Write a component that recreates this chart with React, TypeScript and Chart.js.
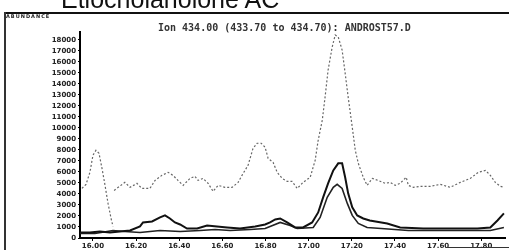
import React, { useEffect, useRef } from "react";
import { Chart, registerables } from "chart.js";

Chart.register(...registerables);

const chartTitle = "Etiocholanolone AC";
const ionLabel = "Ion 434.00 (433.70 to 434.70): ANDROST57.D";
const abundanceLabel = "Abundance";

const xTickValues = [16.0, 16.2, 16.4, 16.6, 16.8, 17.0, 17.2, 17.4, 17.6, 17.8];
const xTickLabels = ["16.00", "16.20", "16.40", "16.60", "16.80", "17.00", "17.20", "17.40", "17.60", "17.80"];
const yTickValues = [0, 1000, 2000, 3000, 4000, 5000, 6000, 7000, 8000, 9000, 10000, 11000, 12000, 13000, 14000, 15000, 16000, 17000, 18000];

// dotted trace
const dotTimes = [
  15.949, 15.968, 15.986, 16.0, 16.014, 16.028, 16.042, 16.056, 16.07, 16.084, 16.093, 16.095,
  16.098, 16.148, 16.172, 16.204, 16.227, 16.264, 16.288, 16.32, 16.348, 16.371, 16.394, 16.418,
  16.45, 16.473, 16.487, 16.51, 16.534, 16.557, 16.58, 16.612, 16.645, 16.673, 16.691, 16.719,
  16.742, 16.761, 16.78, 16.798, 16.812, 16.835, 16.854, 16.877, 16.9, 16.923, 16.947, 16.974,
  17.007, 17.03, 17.044, 17.063, 17.076, 17.09, 17.109, 17.123, 17.137, 17.155, 17.169, 17.183,
  17.202, 17.216, 17.23, 17.253, 17.271, 17.295, 17.322, 17.355, 17.378, 17.401, 17.424, 17.452,
  17.462, 17.485, 17.517, 17.564, 17.61, 17.656, 17.703, 17.749, 17.786, 17.819, 17.842, 17.865,
  17.888, 17.905,
];
const dotValues = [
  4500, 4870, 5960, 7510, 7960, 7690, 6320, 4780, 3140, 1770, 1050, null,
  4320, 5050, 4600, 4960, 4500, 4500, 5230, 5690, 5960, 5690, 5230, 4780,
  5410, 5600, 5230, 5410, 4960, 4230, 4780, 4600, 4600, 5050, 5690, 6600,
  8140, 8600, 8600, 8240, 7230, 6870, 5960, 5410, 5140, 5140, 4500, 5050,
  5510, 7050, 8870, 10690, 12790, 15240, 17340, 18430, 18250, 17060, 14970, 12790,
  10060, 7960, 6780, 5510, 4780, 5410, 5230, 4960, 5050, 4780, 4960, 5510,
  4780, 4600, 4690, 4690, 4870, 4600, 5050, 5410, 5960, 6140, 5690, 5050,
  4690, 4600,
];

// taller solid trace
const solidATimes = [
  15.94, 15.986, 16.032, 16.079, 16.125, 16.172, 16.218, 16.232, 16.274, 16.311, 16.334, 16.357,
  16.38, 16.404, 16.436, 16.483, 16.529, 16.575, 16.622, 16.682, 16.752, 16.798, 16.821, 16.845,
  16.868, 16.9, 16.937, 16.974, 17.016, 17.044, 17.067, 17.09, 17.114, 17.137, 17.155, 17.169,
  17.183, 17.202, 17.225, 17.253, 17.283, 17.364, 17.424, 17.531, 17.656, 17.782, 17.842, 17.875,
  17.905,
];
const solidAValues = [
  500, 500, 590, 500, 590, 680, 1050, 1410, 1500, 1870, 2050, 1770,
  1410, 1230, 860, 860, 1140, 1050, 960, 860, 1050, 1230, 1410, 1680,
  1770, 1410, 960, 960, 1410, 2320, 3690, 4960, 6140, 6780, 6780, 5510,
  4050, 2780, 2050, 1770, 1590, 1320, 960, 860, 860, 860, 960, 1590,
  2230,
];

// lower solid trace
const solidBTimes = [
  15.94, 16.009, 16.093, 16.148, 16.218, 16.311, 16.404, 16.497, 16.566, 16.636, 16.729, 16.798,
  16.868, 16.914, 16.947, 17.021, 17.053, 17.086, 17.114, 17.132, 17.155, 17.179, 17.202, 17.23,
  17.271, 17.336, 17.462, 17.656, 17.842, 17.905,
];
const solidBValues = [
  410, 410, 680, 590, 500, 680, 590, 680, 770, 680, 770, 860,
  1410, 1140, 860, 960, 1870, 3690, 4600, 4870, 4500, 3140, 2050, 1320,
  960, 860, 680, 680, 680, 960,
];

const toPoints = (times: number[], values: (number | null)[]) =>
  times.map((t, i) => ({ x: t, y: values[i] }));

export default function App() {
  const canvasRef = useRef<HTMLCanvasElement | null>(null);

  useEffect(() => {
    if (!canvasRef.current) return;
    const tickFont = { family: "DejaVu Sans", size: 7, weight: "bold" as const };
    const chart = new Chart(canvasRef.current, {
      type: "line",
      data: {
        datasets: [
          {
            data: toPoints(dotTimes, dotValues),
            borderColor: "#666",
            borderWidth: 1.2,
            borderDash: [2, 2],
            pointRadius: 0,
            tension: 0,
            spanGaps: false,
          },
          {
            data: toPoints(solidATimes, solidAValues),
            borderColor: "#111",
            borderWidth: 2,
            pointRadius: 0,
            tension: 0,
          },
          {
            data: toPoints(solidBTimes, solidBValues),
            borderColor: "#222",
            borderWidth: 1.6,
            pointRadius: 0,
            tension: 0,
          },
        ],
      },
      options: {
        animation: false,
        responsive: false,
        devicePixelRatio: 1,
        layout: { padding: { left: 4, top: 32, right: 4, bottom: 0 } },
        plugins: { legend: { display: false }, tooltip: { enabled: false } },
        scales: {
          x: {
            type: "linear",
            min: 15.94,
            max: 17.91,
            afterBuildTicks: (s: any) => {
              s.ticks = xTickValues.map((v) => ({ value: v }));
            },
            afterFit: (s: any) => {
              s.height = 12;
            },
            ticks: {
              autoSkip: false,
              maxRotation: 0,
              padding: 1,
              color: "#222",
              font: tickFont,
              callback: (v: any) => {
                const i = xTickValues.findIndex((t) => Math.abs(t - Number(v)) < 1e-6);
                return i >= 0 ? xTickLabels[i] : null;
              },
            },
            grid: { drawOnChartArea: false, drawTicks: true, tickLength: 3, color: "#000" },
            border: { display: true, color: "#000", width: 2 },
          },
          y: {
            type: "linear",
            min: 0,
            max: 18700,
            afterBuildTicks: (s: any) => {
              s.ticks = yTickValues.map((v) => ({ value: v }));
            },
            afterFit: (s: any) => {
              s.width = 76;
            },
            ticks: {
              autoSkip: false,
              padding: 2,
              color: "#222",
              font: tickFont,
              callback: (v: any) => String(v),
            },
            grid: { drawOnChartArea: false, drawTicks: true, tickLength: 2, color: "#000" },
            border: { display: true, color: "#000", width: 2 },
          },
        },
      },
    });
    return () => chart.destroy();
  }, []);

  return (
    <div
      style={{
        position: "absolute",
        left: 0,
        top: 0,
        width: 509,
        height: 250,
        overflow: "hidden",
        background: "#fff",
      }}
    >
      <canvas ref={canvasRef} width={509} height={250} style={{ position: "absolute", left: 0, top: 0, display: "block" }} />
      <div
        style={{
          position: "absolute",
          left: 61,
          top: -13,
          fontFamily: "Liberation Sans, Arial, sans-serif",
          fontSize: 25,
          lineHeight: "25px",
          color: "#111",
          whiteSpace: "nowrap",
        }}
      >
        {chartTitle}
      </div>
      <div style={{ position: "absolute", left: 4, top: 12, width: 505, height: 2, background: "#111" }} />
      <div style={{ position: "absolute", left: 4, top: 12, width: 2, height: 238, background: "#333" }} />
      <div style={{ position: "absolute", left: 446, top: 247, width: 63, height: 1, background: "#333" }} />
      <div
        style={{
          position: "absolute",
          left: 6,
          top: 13,
          fontFamily: "DejaVu Sans, sans-serif",
          fontSize: 5,
          fontWeight: "bold",
          letterSpacing: 1,
          color: "#222",
          textTransform: "uppercase",
          whiteSpace: "nowrap",
        }}
      >
        {abundanceLabel}
      </div>
      <div
        style={{
          position: "absolute",
          left: 158,
          top: 22,
          fontFamily: "DejaVu Sans Mono, monospace",
          fontSize: 10,
          fontWeight: "bold",
          color: "#333",
          whiteSpace: "nowrap",
        }}
      >
        {ionLabel}
      </div>
    </div>
  );
}
